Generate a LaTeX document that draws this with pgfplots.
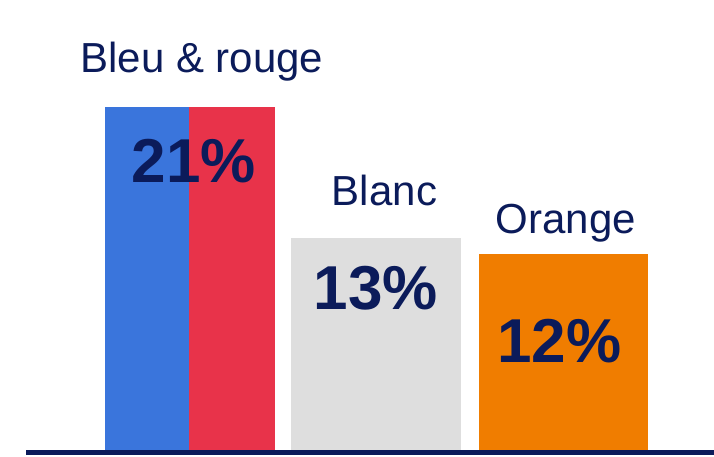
\documentclass[border=0pt]{standalone}
\usepackage{pgfplots}
\pgfplotsset{compat=1.18}
\usepackage{fontspec}
\setmainfont{Liberation Sans}
\definecolor{cblue}{HTML}{3A75DC}
\definecolor{cred}{HTML}{E8334A}
\definecolor{cgray}{HTML}{DEDEDE}
\definecolor{corange}{HTML}{F07D00}
\definecolor{navy}{HTML}{0B1B5A}
\begin{document}
\begin{tikzpicture}
\begin{axis}[
  scale only axis, width=714pt, height=457pt,
  xmin=0, xmax=714, ymin=-0.366, ymax=27.53,
  hide axis, clip=false,
  ybar, bar shift=0pt,
]
\addplot[fill=cblue, draw=none, bar width=85] coordinates {(147.5,21)};
\addplot[fill=cred, draw=none, bar width=86] coordinates {(232,21)};
\addplot[fill=cgray, draw=none, bar width=170] coordinates {(376,13)};
\addplot[fill=corange, draw=none, bar width=169] coordinates {(563.5,12)};
\draw[navy, line width=4.5pt] (axis cs:26,-0.09) -- (axis cs:714,-0.09);
\node[navy, anchor=base, font=\fontsize{42}{48}\selectfont] at (axis cs:202,23.08) {Bleu \& rouge};
\node[navy, anchor=base, font=\fontsize{42}{48}\selectfont] at (axis cs:384.5,14.96) {Blanc};
\node[navy, anchor=base, font=\fontsize{42}{48}\selectfont] at (axis cs:566,13.25) {Orange};
\node[navy, anchor=base, font=\bfseries\fontsize{62}{70}\selectfont] at (axis cs:194,16.36) {21\%};
\node[navy, anchor=base, font=\bfseries\fontsize{62}{70}\selectfont] at (axis cs:376,8.61) {13\%};
\node[navy, anchor=base, font=\bfseries\fontsize{62}{70}\selectfont] at (axis cs:559.5,5.43) {12\%};
\end{axis}
\pgfresetboundingbox
\path[use as bounding box] (current axis.south west) rectangle (current axis.north east);
\end{tikzpicture}
\end{document}
